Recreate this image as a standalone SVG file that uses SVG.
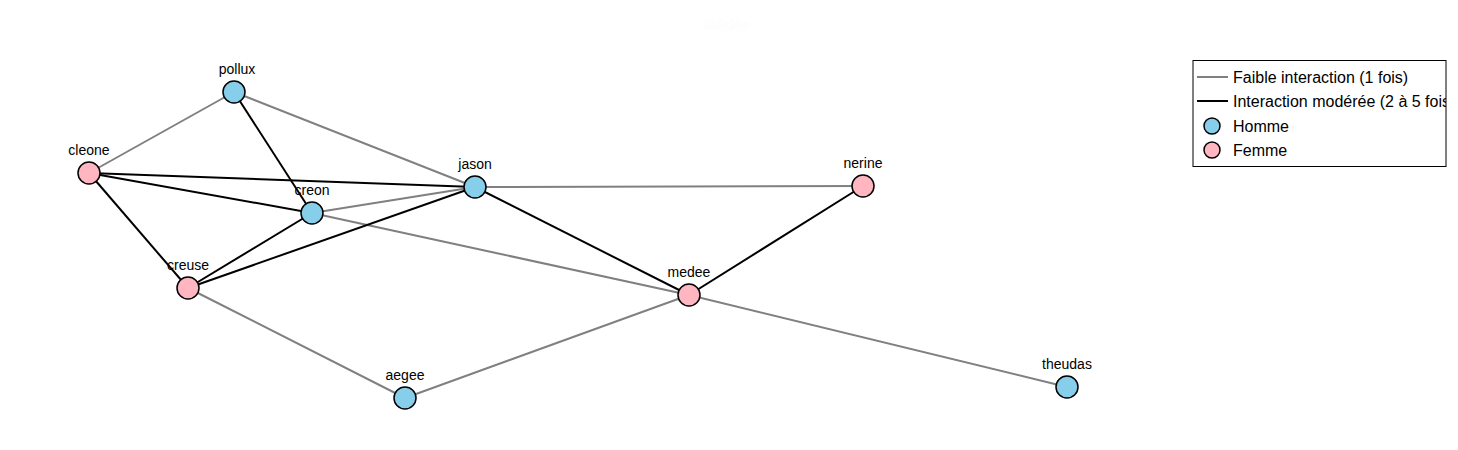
<svg xmlns="http://www.w3.org/2000/svg" width="1458" height="450" viewBox="0 0 1458 450">
<style>
.weak{stroke:#808080;stroke-width:2;fill:none}
.mod{stroke:#000;stroke-width:2;fill:none}
.h{fill:#87CEEB;stroke:#000;stroke-width:1.5}
.f{fill:#FFB6C1;stroke:#000;stroke-width:1.5}
.lbl{font-family:"Liberation Sans",Arial,sans-serif;font-size:14px;fill:#000;text-anchor:middle}
.leg{font-family:"Liberation Sans",Arial,sans-serif;font-size:16px;fill:#000}
</style>
<defs><clipPath id="legclip"><rect x="1193" y="61" width="253" height="105"/></clipPath></defs>
<rect width="1458" height="450" fill="#fff"/>
<text x="727" y="30" font-family="Liberation Sans,Arial,sans-serif" font-size="15" font-weight="bold" fill="#fdfdfd" text-anchor="middle">Médée</text>
<g id="edges">
<line class="weak" x1="234" y1="92" x2="89" y2="173"/>
<line class="weak" x1="234" y1="92" x2="475" y2="187"/>
<line class="weak" x1="312" y1="213" x2="475" y2="187"/>
<line class="weak" x1="475" y1="187" x2="863" y2="186"/>
<line class="weak" x1="312" y1="213" x2="689" y2="295"/>
<line class="weak" x1="188" y1="288" x2="405" y2="398"/>
<line class="weak" x1="405" y1="398" x2="689" y2="295"/>
<line class="weak" x1="689" y1="295" x2="1067" y2="387"/>
<line class="mod" x1="234" y1="92" x2="312" y2="213"/>
<line class="mod" x1="89" y1="173" x2="475" y2="187"/>
<line class="mod" x1="89" y1="173" x2="312" y2="213"/>
<line class="mod" x1="89" y1="173" x2="188" y2="288"/>
<line class="mod" x1="188" y1="288" x2="312" y2="213"/>
<line class="mod" x1="188" y1="288" x2="475" y2="187"/>
<line class="mod" x1="475" y1="187" x2="689" y2="295"/>
<line class="mod" x1="689" y1="295" x2="863" y2="186"/>
</g>
<g id="node-pollux"><circle class="h" cx="234" cy="92" r="11"/><text class="lbl" x="237" y="74">pollux</text></g>
<g id="node-cleone"><circle class="f" cx="89" cy="173" r="11"/><text class="lbl" x="89" y="155">cleone</text></g>
<g id="node-jason"><circle class="h" cx="475" cy="187" r="11"/><text class="lbl" x="475" y="169">jason</text></g>
<g id="node-creon"><circle class="h" cx="312" cy="213" r="11"/><text class="lbl" x="312" y="195">creon</text></g>
<g id="node-nerine"><circle class="f" cx="863" cy="186" r="11"/><text class="lbl" x="863" y="168">nerine</text></g>
<g id="node-creuse"><circle class="f" cx="188" cy="288" r="11"/><text class="lbl" x="188" y="270">creuse</text></g>
<g id="node-medee"><circle class="f" cx="689" cy="295" r="11"/><text class="lbl" x="689" y="277">medee</text></g>
<g id="node-aegee"><circle class="h" cx="405" cy="398" r="11"/><text class="lbl" x="405" y="380">aegee</text></g>
<g id="node-theudas"><circle class="h" cx="1067" cy="387" r="11"/><text class="lbl" x="1067" y="369">theudas</text></g>
<g id="legend">
<rect x="1193" y="60.5" width="253" height="106" fill="#fff" stroke="#000" stroke-width="1"/>
<g clip-path="url(#legclip)">
<line class="weak" x1="1197" y1="77" x2="1228" y2="77"/>
<text class="leg" x="1233" y="82.5">Faible interaction (1 fois)</text>
<line class="mod" x1="1197" y1="101" x2="1228" y2="101"/>
<text class="leg" x="1233" y="106.5">Interaction modérée (2 à 5 fois)</text>
<circle class="h" cx="1212" cy="126" r="8"/>
<text class="leg" x="1233" y="131.5">Homme</text>
<circle class="f" cx="1212" cy="150" r="8"/>
<text class="leg" x="1233" y="155.5">Femme</text>
</g>
</g>
</svg>
